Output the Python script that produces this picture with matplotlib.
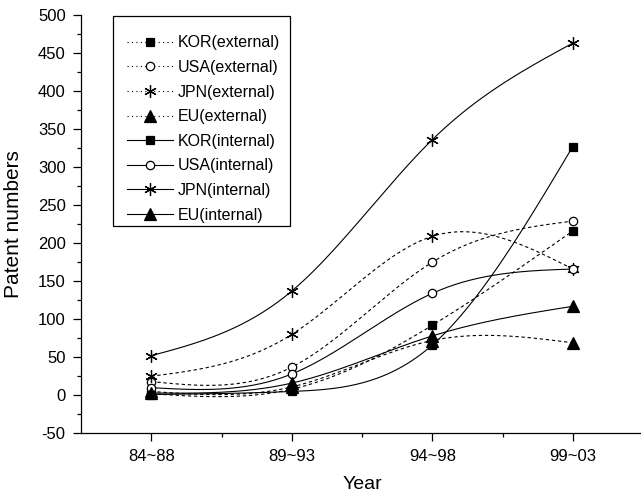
import numpy as np
import matplotlib
matplotlib.use("Agg")
import matplotlib.pyplot as plt
from matplotlib.lines import Line2D
from matplotlib.patches import Rectangle
from matplotlib.ticker import MultipleLocator, FixedLocator

plt.rcParams['font.family'] = ['Liberation Sans', 'DejaVu Sans']
plt.rcParams['axes.unicode_minus'] = False

periods = ["84~88", "89~93", "94~98", "99~03"]

kor_external = [2, 8, 92, 216]
usa_external = [18, 37, 175, 229]
jpn_external = [25, 80, 209, 166]
eu_external = [5, 11, 72, 69]
kor_internal = [1, 5, 66, 327]
usa_internal = [10, 28, 134, 166]
jpn_internal = [52, 137, 336, 463]
eu_internal = [3, 16, 78, 117]

labels = ["KOR(external)", "USA(external)", "JPN(external)", "EU(external)",
          "KOR(internal)", "USA(internal)", "JPN(internal)", "EU(internal)"]
series = [kor_external, usa_external, jpn_external, eu_external,
          kor_internal, usa_internal, jpn_internal, eu_internal]


def natural_spline(x, y, n=60):
    x = np.asarray(x, float)
    y = np.asarray(y, float)
    k = len(x)
    h = np.diff(x)
    A = np.zeros((k, k))
    b = np.zeros(k)
    A[0, 0] = 1
    A[-1, -1] = 1
    for i in range(1, k - 1):
        A[i, i - 1] = h[i - 1]
        A[i, i] = 2 * (h[i - 1] + h[i])
        A[i, i + 1] = h[i]
        b[i] = 6 * ((y[i + 1] - y[i]) / h[i] - (y[i] - y[i - 1]) / h[i - 1])
    M = np.linalg.solve(A, b)
    xs, ys = [], []
    for i in range(k - 1):
        t = np.linspace(x[i], x[i + 1], n)
        a = x[i + 1] - t
        c = t - x[i]
        s = (M[i] * a ** 3 + M[i + 1] * c ** 3) / (6 * h[i]) \
            + (y[i] / h[i] - M[i] * h[i] / 6) * a \
            + (y[i + 1] / h[i] - M[i + 1] * h[i] / 6) * c
        xs.append(t)
        ys.append(s)
    return np.concatenate(xs), np.concatenate(ys)


fig = plt.figure(figsize=(6.41, 4.96), dpi=100)
ax = fig.add_axes([81 / 641, 62.7 / 496, 562 / 641, 418.3 / 496])

xpos = np.arange(1, 5)
markers = ['s', 'o', (6, 2, 0), '^'] * 2
msizes = [6, 6, 9, 8] * 2
dash = (0, (3, 2.5))
handles = []
for i, (lab, vals) in enumerate(zip(labels, series)):
    ls = dash if i < 4 else '-'
    mk = markers[i]
    mfc = 'white' if mk == 'o' else 'black'
    sx, sy = natural_spline(xpos, vals)
    ax.plot(sx, sy, color='black', lw=0.8, linestyle=ls, zorder=2)
    ax.plot(xpos, vals, linestyle='none', marker=mk, markersize=msizes[i],
            markerfacecolor=mfc, markeredgecolor='black', markeredgewidth=0.9,
            zorder=3)
    handles.append(Line2D([], [], color='black', lw=0.8,
                          linestyle=(0, (1, 3)) if i < 4 else '-',
                          marker=mk, markersize=msizes[i], markerfacecolor=mfc,
                          markeredgecolor='black', markeredgewidth=0.9,
                          label=lab))

ax.set_xlim(0.5, 4.5)
ax.set_ylim(-50, 500)
ax.set_xticks(xpos)
ax.set_xticklabels(periods)
ax.xaxis.set_minor_locator(FixedLocator([1.5, 2.5, 3.5]))
ax.yaxis.set_major_locator(MultipleLocator(50))
ax.yaxis.set_minor_locator(MultipleLocator(25))
ax.tick_params(which='major', direction='out', length=6, width=0.9,
               labelsize=12, pad=5)
ax.tick_params(which='minor', direction='out', length=3, width=0.9)
for s in ['top', 'right']:
    ax.spines[s].set_visible(False)
for s in ['left', 'bottom']:
    ax.spines[s].set_linewidth(0.9)

ax.set_xlabel("Year", fontsize=14)
ax.set_ylabel("Patent numbers", fontsize=15)
ax.xaxis.set_label_coords(0.5, -0.103)
ax.yaxis.set_label_coords(-0.104, 0.5)

# legend frame
ax.add_patch(Rectangle((0.057, 0.4956), 0.315, 0.502, transform=ax.transAxes,
                       facecolor='white', edgecolor='black', lw=0.9,
                       zorder=4, clip_on=False))
leg = ax.legend(handles=handles, loc='upper left',
                bbox_to_anchor=(0.0819, 0.951), borderaxespad=0,
                fontsize=11.5, frameon=False,
                handlelength=2.9, handletextpad=0.3, labelspacing=0.6,
                borderpad=0)
leg.set_zorder(5)

fig.savefig("out.png", dpi=100)
